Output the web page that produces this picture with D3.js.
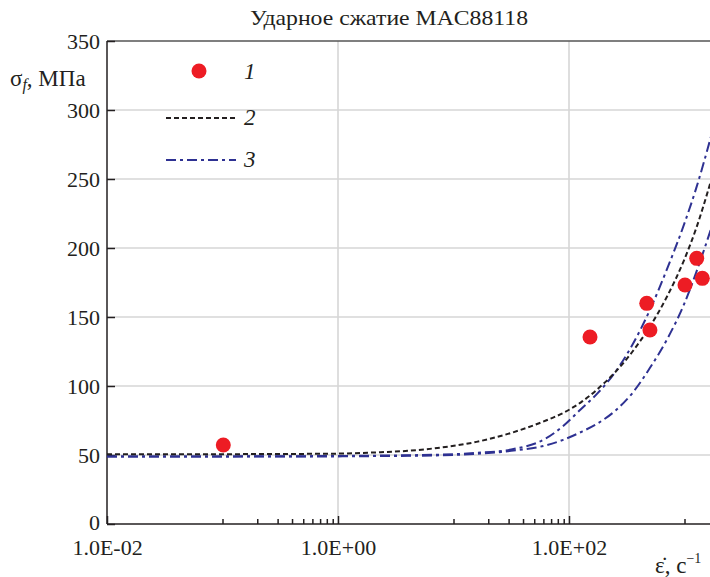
<!DOCTYPE html>
<html lang="ru">
  <head>
    <meta charset="UTF-8" />
    <title>Ударное сжатие MAC88118</title>
    <script src="https://cdnjs.cloudflare.com/ajax/libs/d3/7.8.5/d3.min.js"></script>
    <style>
      body { margin: 0; background: #fff; }
      svg { display: block; font-family: "Liberation Serif", "DejaVu Serif", serif; }
    </style>
  </head>
  <body>
    <div id="chart"></div>

    <script>
      /** Data */
      const curveRates = [0.01, 0.1, 1, 2, 4, 7.94, 15.8, 31.6, 63.1, 89.1, 126, 178, 251, 355, 501, 708, 1000, 1259, 1700];
      const curve2 = [50.5, 50.6, 51, 51.8, 53, 55.5, 59.5, 66, 75, 80.5, 88, 98, 110, 125, 143, 165, 192, 214, 249];
      const curve3Upper = [49, 49, 49.3, 49.5, 49.8, 50.3, 51.5, 54, 62, 71, 83, 95, 110, 130, 155, 185, 218, 243, 281];
      const curve3Lower = [49, 49, 49, 49.2, 49.4, 49.8, 50.8, 53, 57, 61, 66.5, 73, 82, 95, 113, 134, 160, 182, 214];

      const expRates = [0.1016, 152, 471, 502, 1010, 1276, 1427];
      const expStress = [57.2, 135.5, 159.9, 140.6, 173.2, 192.5, 178];

      const xMajorTicks = [0.01, 1, 100];
      const xTickLabels = ["1.0E-02", "1.0E+00", "1.0E+02"];
      const xMinorTicks = [0.1, 0.2, 0.3, 0.4, 0.5, 0.6, 0.7, 0.8, 0.9, 10, 20, 30, 40, 50, 60, 70, 80, 90, 1000];
      const yTicks = [0, 50, 100, 150, 200, 250, 300, 350];
      const legendLabels = ["1", "2", "3"];

      /** Graph configs */
      const width = 710;
      const height = 577;
      const plotLeft = 107;
      const decade = 115.5;
      const plotTop = 41;
      const plotBottom = 524;
      const serif = "'Liberation Serif', 'DejaVu Serif', serif";
      const red = "#ed1c24";
      const navy = "#2e3192";
      const ink = "#231f20";
      const grid = "#d6d6d6";

      const xScale = d3.scaleLog().domain([0.01, 10000]).range([plotLeft, plotLeft + 6 * decade]);
      const yScale = d3.scaleLinear().domain([0, 350]).range([plotBottom, plotTop]);

      const svg = d3.select("#chart").append("svg")
        .attr("width", width)
        .attr("height", height);

      /** Grid */
      svg.append("g").selectAll("line")
        .data(yTicks.filter((d) => d > 0 && d < 350))
        .enter().append("line")
        .attr("x1", plotLeft).attr("x2", width)
        .attr("y1", (d) => yScale(d)).attr("y2", (d) => yScale(d))
        .attr("stroke", grid).attr("stroke-width", 1.6);
      svg.append("g").selectAll("line")
        .data(xMajorTicks.filter((d) => d > 0.01))
        .enter().append("line")
        .attr("x1", (d) => xScale(d)).attr("x2", (d) => xScale(d))
        .attr("y1", plotTop).attr("y2", plotBottom)
        .attr("stroke", grid).attr("stroke-width", 1.6);

      /** Top frame */
      svg.append("line")
        .attr("x1", plotLeft).attr("x2", width)
        .attr("y1", yScale(350)).attr("y2", yScale(350))
        .attr("stroke", "#555").attr("stroke-width", 1.5);

      /** Axes */
      const xAxis = d3.axisBottom(xScale)
        .tickValues(xMajorTicks)
        .tickSize(-8)
        .tickPadding(15)
        .tickFormat((d, i) => xTickLabels[i]);
      const xMinor = d3.axisBottom(xScale)
        .tickValues(xMinorTicks)
        .tickSize(-5)
        .tickFormat("");
      const yAxis = d3.axisLeft(yScale)
        .tickValues(yTicks)
        .tickSize(-8)
        .tickPadding(7);

      const gx = svg.append("g").attr("transform", `translate(0, ${plotBottom})`).call(xAxis);
      const gxm = svg.append("g").attr("transform", `translate(0, ${plotBottom})`).call(xMinor);
      gxm.select(".domain").remove();
      const gy = svg.append("g").attr("transform", `translate(${plotLeft}, 0)`).call(yAxis);

      [gx, gxm, gy].forEach((g) => {
        g.attr("font-family", serif).attr("font-size", 22);
        g.selectAll("path, line").attr("stroke", ink).attr("stroke-width", 1.5);
        g.selectAll("text").attr("fill", ink);
      });
      gx.select(".domain").attr("d", `M${plotLeft},0H${width}`);
      gy.select(".domain").attr("d", `M0,${plotTop}V${plotBottom}`);
      gy.selectAll("text").attr("dy", (d) => (d === 0 ? "0.26em" : "0.36em"));

      /** Curves */
      const line = (values) => d3.line()
        .x((d, i) => xScale(curveRates[i]))
        .y((d) => yScale(d))
        .curve(d3.curveMonotoneX)(values);

      svg.append("path").attr("d", line(curve3Lower))
        .attr("fill", "none").attr("stroke", navy).attr("stroke-width", 2)
        .attr("stroke-dasharray", "10,4,3,4");
      svg.append("path").attr("d", line(curve3Upper))
        .attr("fill", "none").attr("stroke", navy).attr("stroke-width", 2)
        .attr("stroke-dasharray", "10,4,3,4");
      svg.append("path").attr("d", line(curve2))
        .attr("fill", "none").attr("stroke", ink).attr("stroke-width", 2)
        .attr("stroke-dasharray", "5,3");

      /** Experimental points */
      svg.append("g").selectAll("circle")
        .data(expRates)
        .enter().append("circle")
        .attr("cx", (d) => xScale(d))
        .attr("cy", (d, i) => yScale(expStress[i]))
        .attr("r", 7.5)
        .attr("fill", red);

      /** Legend */
      const legend = svg.append("g").attr("font-family", serif);
      legend.append("circle").attr("cx", 199).attr("cy", 71).attr("r", 7.5).attr("fill", red);
      legend.append("line").attr("x1", 166).attr("x2", 236).attr("y1", 118).attr("y2", 118)
        .attr("stroke", ink).attr("stroke-width", 2).attr("stroke-dasharray", "5,3");
      legend.append("line").attr("x1", 166).attr("x2", 236).attr("y1", 160).attr("y2", 160)
        .attr("stroke", navy).attr("stroke-width", 2).attr("stroke-dasharray", "10,4,3,4");
      legend.selectAll("text").data(legendLabels).enter().append("text")
        .attr("x", 244)
        .attr("y", (d, i) => [79, 125, 167][i])
        .attr("font-style", "italic")
        .attr("font-size", 23)
        .attr("fill", ink)
        .text((d) => d);

      /** Title and axis labels */
      svg.append("text")
        .attr("x", 389).attr("y", 25)
        .attr("text-anchor", "middle")
        .attr("font-family", serif)
        .attr("font-size", 22)
        .attr("textLength", 278)
        .attr("lengthAdjust", "spacingAndGlyphs")
        .attr("fill", ink)
        .text("Ударное сжатие MAC88118");

      const yl = svg.append("text").attr("x", 10).attr("y", 86)
        .attr("font-family", serif).attr("font-size", 23).attr("fill", ink);
      yl.append("tspan").text("σ");
      yl.append("tspan").attr("font-style", "italic").attr("font-size", 16).attr("dy", 4).text("f");
      yl.append("tspan").attr("dy", -4).text(", МПа");

      const xl = svg.append("text").attr("x", 655).attr("y", 573)
        .attr("font-family", serif).attr("font-size", 23).attr("fill", ink);
      xl.append("tspan").text("ε̇, с");
      xl.append("tspan").attr("font-size", 14).attr("dy", -10).text("−1");
    </script>
  </body>
</html>
